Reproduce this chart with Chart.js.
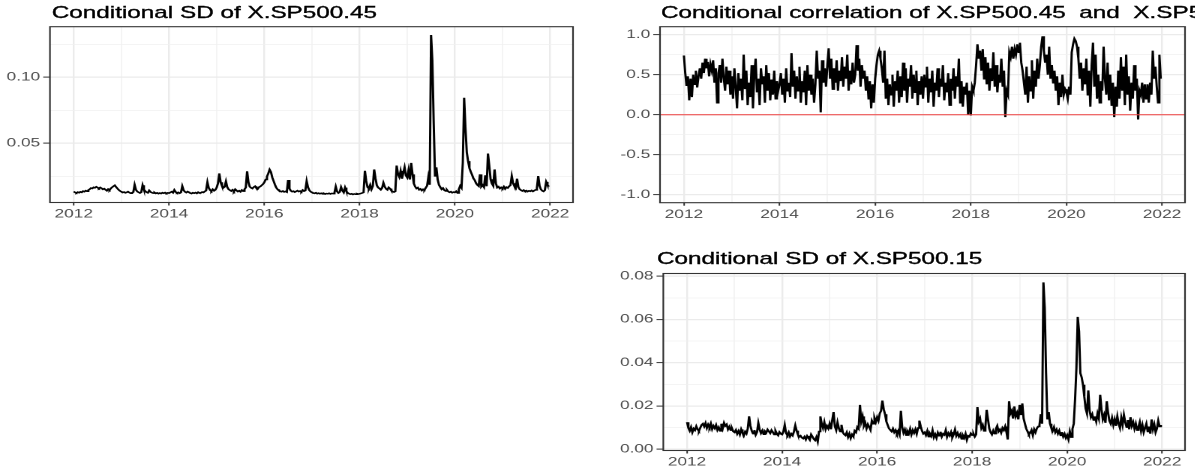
<!DOCTYPE html>
<html>
<head>
<meta charset="utf-8">
<script src="https://cdn.jsdelivr.net/npm/chart.js@4.4.1/dist/chart.umd.min.js"></script>
<style>
  html, body { margin:0; padding:0; width:1195px; height:470px; overflow:hidden; background:#fff; }
  #wrap { position:absolute; left:0; top:0; width:796.67px; height:470px; overflow:hidden;
          transform:scaleX(1.5); transform-origin:0 0; }
  canvas { position:absolute; }
  .ttl { position:absolute; font-family:"Liberation Sans", Arial, sans-serif; font-size:16.2px;
         line-height:16.2px; color:#000; white-space:pre; -webkit-text-stroke:0.35px #000; }
</style>
</head>
<body>
<div id="wrap">
  <div class="ttl" id="t1" style="left:34.5px; top:3.6px;"></div>
  <div class="ttl" id="t2" style="left:440.6px; top:3.6px;"></div>
  <div class="ttl" id="t3" style="left:438px; top:250.4px;"></div>
  <canvas id="c1" width="400" height="232" style="left:0; top:0;"></canvas>
  <canvas id="c2" width="396.67" height="232" style="left:400px; top:0;"></canvas>
  <canvas id="c3" width="396.67" height="230" style="left:400px; top:240px;"></canvas>
</div>
<script>
// ---------- data ----------
const titles = [
  "Conditional SD of X.SP500.45",
  "Conditional correlation of X.SP500.45  and  X.SP500.15",
  "Conditional SD of X.SP500.15"
];
const startYear = 2012, perYear = 36;

const xMajor = [2012, 2014, 2016, 2018, 2020, 2022];
const xMinor = [2013, 2015, 2017, 2019, 2021];
const xLabels = ["2012", "2014", "2016", "2018", "2020", "2022"];

const y1Major = [0.05, 0.10];
const y1Minor = [0.025, 0.075, 0.125];
const y1Labels = ["0.05", "0.10"];

const y2Major = [-1, -0.5, 0, 0.5, 1];
const y2Minor = [-0.75, -0.25, 0.25, 0.75];
const y2Labels = ["-1.0", "-0.5", "0.0", "0.5", "1.0"];

const y3Major = [0, 0.02, 0.04, 0.06, 0.08];
const y3Minor = [0.01, 0.03, 0.05, 0.07];
const y3Labels = ["0.00", "0.02", "0.04", "0.06", "0.08"];

const sd45 = [
.0135,.0128,.0124,.0131,.0126,.0133,.0129,.0138,.0134,.0142,.0137,.0146,
.0152,.0161,.0158,.0167,.0163,.0171,.0165,.0158,.0166,.0160,.0152,.0157,
.0148,.0141,.0153,.0146,.0159,.0168,.0175,.0182,.0169,.0158,.0147,.0139,
.0133,.0128,.0131,.0125,.0129,.0134,.0127,.0122,.0126,.0131,.0186,.0148,
.0135,.0129,.0124,.0130,.0183,.0151,.0138,.0130,.0125,.0143,.0132,.0127,
.0123,.0128,.0121,.0125,.0119,.0124,.0120,.0126,.0122,.0127,.0121,.0125,
.0123,.0128,.0134,.0126,.0147,.0132,.0124,.0129,.0122,.0128,.0176,.0145,
.0133,.0127,.0135,.0129,.0124,.0120,.0126,.0122,.0127,.0121,.0130,.0125,
.0125,.0131,.0128,.0136,.0142,.0206,.0163,.0146,.0138,.0152,.0141,.0148,
.0165,.0198,.0272,.0205,.0178,.0163,.0171,.0212,.0168,.0152,.0145,.0139,
.0148,.0136,.0152,.0143,.0135,.0141,.0133,.0146,.0138,.0152,.0165,.0288,
.0205,.0172,.0163,.0158,.0169,.0175,.0161,.0155,.0168,.0173,.0182,.0191,
.0205,.0226,.0248,.0272,.0301,.0283,.0242,.0215,.0188,.0165,.0152,.0143,
.0138,.0134,.0139,.0132,.0136,.0131,.0222,.0158,.0141,.0134,.0138,.0131,
.0136,.0142,.0135,.0139,.0133,.0146,.0138,.0142,.0214,.0168,.0145,.0134,
.0128,.0124,.0121,.0126,.0119,.0123,.0118,.0122,.0117,.0121,.0116,.0120,
.0118,.0122,.0117,.0121,.0119,.0126,.0172,.0135,.0124,.0131,.0168,.0142,
.0128,.0165,.0138,.0124,.0119,.0115,.0118,.0113,.0117,.0114,.0119,.0116,
.0118,.0121,.0124,.0128,.0292,.0215,.0168,.0158,.0185,.0152,.0176,.0302,
.0236,.0182,.0165,.0158,.0149,.0162,.0201,.0172,.0155,.0148,.0166,.0157,
.0142,.0135,.0131,.0136,.0332,.0268,.0245,.0291,.0232,.0275,.0318,.0256,
.0241,.0298,.0226,.0352,.0265,.0196,.0172,.0158,.0165,.0149,.0155,.0143,
.0152,.0147,.0163,.0178,.0245,.0186,.1320,.1125,.0652,.0254,.0318,.0226,
.0185,.0168,.0152,.0161,.0145,.0139,.0148,.0135,.0129,.0134,.0126,.0131,
.0128,.0137,.0124,.0152,.0178,.0163,.0352,.0845,.0618,.0432,.0365,.0312,
.0285,.0262,.0235,.0221,.0198,.0185,.0176,.0265,.0172,.0184,.0168,.0258,
.0175,.0423,.0332,.0228,.0195,.0178,.0302,.0198,.0165,.0172,.0158,.0166,
.0158,.0172,.0155,.0168,.0162,.0175,.0182,.0252,.0198,.0175,.0162,.0232,
.0168,.0152,.0145,.0139,.0146,.0138,.0142,.0135,.0141,.0137,.0143,.0136,
.0142,.0148,.0162,.0252,.0178,.0152,.0141,.0136,.0145,.0208,.0185,.0172
];

const corr = [
.74,.52,.36,.48,.18,.45,.22,.50,.38,.55,.34,.48,
.58,.45,.65,.52,.70,.58,.66,.48,.63,.55,.68,.40,
.58,.15,.52,.62,.40,.70,.46,.30,.60,.38,.55,.25,
.48,.20,.58,.35,.08,.52,.30,.45,.18,.75,.32,.55,
.12,.40,.22,.62,.08,.50,.70,.28,.45,.12,.58,.38,
.48,.15,.62,.30,.52,.18,.44,.25,.55,.20,.42,.30,
.38,.52,.25,.45,.15,.58,.30,.40,.22,.77,.35,.55,
.20,.48,.30,.60,.15,.42,.28,.55,.12,.62,.30,.50,
.25,.45,.15,.38,.80,.45,.55,.03,.68,.40,.58,.35,
.62,.83,.45,.70,.32,.58,.40,.68,.30,.55,.42,.72,
.35,.60,.45,.75,.30,.55,.38,.65,.40,.50,.87,.55,
.70,.35,.62,.45,.55,.30,.48,.20,.42,.08,.38,.15,
.45,.62,.75,.80,.70,.58,.40,.80,.20,.45,.12,.38,
.25,.50,.10,.42,.30,.55,.15,.48,.22,.65,.30,.58,
.15,.45,.35,.62,.20,.50,.28,.55,.12,.42,.25,.48,
.20,.50,.35,.60,.15,.45,.28,.55,.10,.40,.30,.58,
.22,.45,.35,.62,.18,.40,.28,.52,.12,.45,.30,.58,
.20,.48,.35,.70,.15,.42,.10,.35,.25,.40,.00,.30,
-.01,.35,.30,.40,.62,.88,.70,.80,.55,.82,.45,.72,
.38,.65,.30,.58,.42,.78,.35,.62,.28,.50,.40,.70,
.35,.55,-.03,.30,.25,.78,.72,.85,.70,.82,.75,.88,
.78,.90,.65,.55,.40,.25,.60,.15,.48,.30,.68,.20,
.55,.35,.70,.45,.62,.85,.98,.80,.65,.75,.50,.85,
.45,.62,.40,.55,.30,.48,.12,.40,.22,.50,.25,.32,
.28,.20,.35,.25,.78,.88,.95,.92,.85,.70,.45,.65,
.30,.58,.38,.70,.25,.55,.10,.62,.90,.35,.75,.20,
.50,.15,.42,.30,.85,.45,.25,.65,.18,.50,.12,.40,
-.03,.35,.10,.55,.20,.72,.30,.60,.12,.75,.25,.48,
.05,.40,.20,.62,.30,.45,-.06,.30,.25,.40,.15,.38,
.20,.38,.15,.40,.25,.80,.45,.60,.35,.15,.75,.45
];

const sd15 = [
.0125,.0098,.0085,.0102,.0078,.0095,.0088,.0106,.0092,.0084,.0099,.0112,
.0118,.0105,.0121,.0098,.0114,.0102,.0119,.0093,.0108,.0097,.0112,.0089,
.0101,.0085,.0118,.0096,.0122,.0108,.0115,.0092,.0104,.0088,.0097,.0082,
.0078,.0089,.0071,.0084,.0068,.0092,.0076,.0063,.0081,.0072,.0095,.0152,
.0108,.0085,.0072,.0088,.0066,.0079,.0121,.0091,.0074,.0086,.0069,.0083,
.0076,.0091,.0082,.0074,.0088,.0079,.0068,.0085,.0072,.0064,.0079,.0071,
.0068,.0082,.0112,.0074,.0065,.0078,.0059,.0071,.0063,.0082,.0110,.0086,
.0068,.0057,.0062,.0053,.0049,.0058,.0045,.0061,.0052,.0043,.0068,.0058,
.0047,.0041,.0056,.0035,.0082,.0152,.0118,.0098,.0125,.0092,.0108,.0096,
.0118,.0092,.0135,.0172,.0105,.0088,.0124,.0097,.0082,.0113,.0078,.0069,
.0064,.0078,.0056,.0072,.0051,.0068,.0059,.0085,.0078,.0102,.0094,.0205,
.0128,.0152,.0108,.0122,.0096,.0115,.0103,.0089,.0132,.0118,.0145,.0126,
.0148,.0132,.0165,.0178,.0225,.0185,.0162,.0128,.0112,.0096,.0089,.0082,
.0095,.0078,.0088,.0072,.0085,.0068,.0178,.0102,.0076,.0091,.0065,.0083,
.0072,.0094,.0068,.0088,.0075,.0092,.0071,.0098,.0132,.0106,.0085,.0072,
.0078,.0065,.0084,.0058,.0072,.0061,.0087,.0055,.0069,.0052,.0076,.0062,
.0081,.0058,.0071,.0066,.0088,.0057,.0074,.0063,.0079,.0054,.0068,.0091,
.0062,.0075,.0058,.0069,.0048,.0064,.0052,.0071,.0043,.0062,.0058,.0073,
.0065,.0072,.0058,.0068,.0195,.0128,.0142,.0098,.0112,.0085,.0102,.0182,
.0138,.0095,.0078,.0068,.0086,.0072,.0094,.0108,.0082,.0091,.0076,.0098,
.0088,.0105,.0079,.0045,.0222,.0165,.0178,.0142,.0198,.0152,.0168,.0138,
.0205,.0158,.0212,.0142,.0118,.0095,.0082,.0068,.0075,.0088,.0064,.0092,
.0078,.0096,.0105,.0112,.0162,.0118,.0772,.0655,.0352,.0138,.0172,.0118,
.0098,.0085,.0102,.0078,.0091,.0072,.0086,.0064,.0079,.0058,.0071,.0052,
.0065,.0045,.0082,.0056,.0094,.0118,.0232,.0375,.0612,.0545,.0352,.0332,
.0298,.0242,.0188,.0165,.0272,.0178,.0148,.0162,.0135,.0152,.0128,.0165,
.0142,.0252,.0185,.0138,.0158,.0122,.0222,.0168,.0132,.0118,.0145,.0112,
.0138,.0108,.0152,.0118,.0098,.0145,.0112,.0158,.0125,.0102,.0135,.0092,
.0148,.0108,.0125,.0095,.0118,.0088,.0102,.0125,.0085,.0112,.0078,.0098,
.0118,.0082,.0105,.0072,.0138,.0092,.0115,.0078,.0095,.0132,.0105,.0112
];

// ---------- helpers ----------
const dates = sd45.map((_, i) => startYear + i / perYear);
const FONT = '"Liberation Sans", Arial, sans-serif';

titles.forEach((t, i) => { document.getElementById('t' + (i + 1)).textContent = t; });

const framePlugin = {
  id: 'frame',
  afterDatasetsDraw(chart, args, opts) {
    const { ctx, chartArea: a } = chart;
    ctx.save();
    if (opts.zero) {
      const y = chart.scales.y.getPixelForValue(0);
      ctx.strokeStyle = '#F04040';
      ctx.lineWidth = 1;
      ctx.beginPath(); ctx.moveTo(a.left, y); ctx.lineTo(a.right, y); ctx.stroke();
    }
    ctx.strokeStyle = '#333333';
    ctx.lineWidth = 1.1;
    ctx.strokeRect(a.left, a.top, a.right - a.left, a.bottom - a.top);
    ctx.restore();
  }
};

function axis(major, minor, labels, min, max, size, isX) {
  const all = major.concat(minor).sort((a, b) => a - b);
  return {
    type: 'linear', min, max,
    afterBuildTicks: s => { s.ticks = all.map(v => ({ value: v })); },
    afterFit: s => { if (isX) s.height = size; else s.width = size; },
    border: { display: false },
    grid: {
      color: c => major.includes(c.tick.value) ? '#EBEBEB' : '#F1F1F1',
      lineWidth: c => major.includes(c.tick.value) ? 1.2 : 0.8,
      tickColor: c => major.includes(c.tick.value) ? '#333333' : 'rgba(0,0,0,0)',
      tickWidth: 1,
      tickLength: isX ? 3 : 4.5,
      drawTicks: true
    },
    ticks: {
      autoSkip: false, maxRotation: 0, minRotation: 0,
      padding: isX ? 2 : 2,
      color: '#4D4D4D',
      font: { family: FONT, size: 11.5 },
      callback: v => { const i = major.indexOf(v); return i >= 0 ? labels[i] : ''; }
    }
  };
}

function makeChart(id, values, yMajor, yMinor, yLabels, ymin, ymax, yw, xh, pad, zero) {
  return new Chart(document.getElementById(id), {
    type: 'line',
    data: {
      datasets: [{
        data: values.map((v, i) => ({ x: dates[i], y: v })),
        borderColor: '#000000', borderWidth: 1.5, pointRadius: 0, tension: 0, fill: false
      }]
    },
    options: {
      responsive: false, animation: false, devicePixelRatio: 2,
      parsing: false, normalized: true,
      layout: { padding: pad },
      plugins: { legend: { display: false }, tooltip: { enabled: false }, frame: { zero } },
      scales: {
        x: axis(xMajor, xMinor, xLabels, 2011.5, 2022.48, xh, true),
        y: axis(yMajor, yMinor, yLabels, ymin, ymax, yw, false)
      }
    },
    plugins: [framePlugin]
  });
}

makeChart('c1', sd45, y1Major, y1Minor, y1Labels, 0.0052, 0.1383, 33.3, 29.5,
  { top: 26.7, right: 18, bottom: 0, left: 0 }, false);
makeChart('c2', corr, y2Major, y2Minor, y2Labels, -1.1, 1.1, 40, 29.3,
  { top: 26.7, right: 6, bottom: 0, left: 0 }, true);
makeChart('c3', sd15, y3Major, y3Minor, y3Labels, -0.0006, 0.0813, 42.2, 19.5,
  { top: 273.5 - 240, right: 6, bottom: 0, left: 0 }, false);
</script>
</body>
</html>
